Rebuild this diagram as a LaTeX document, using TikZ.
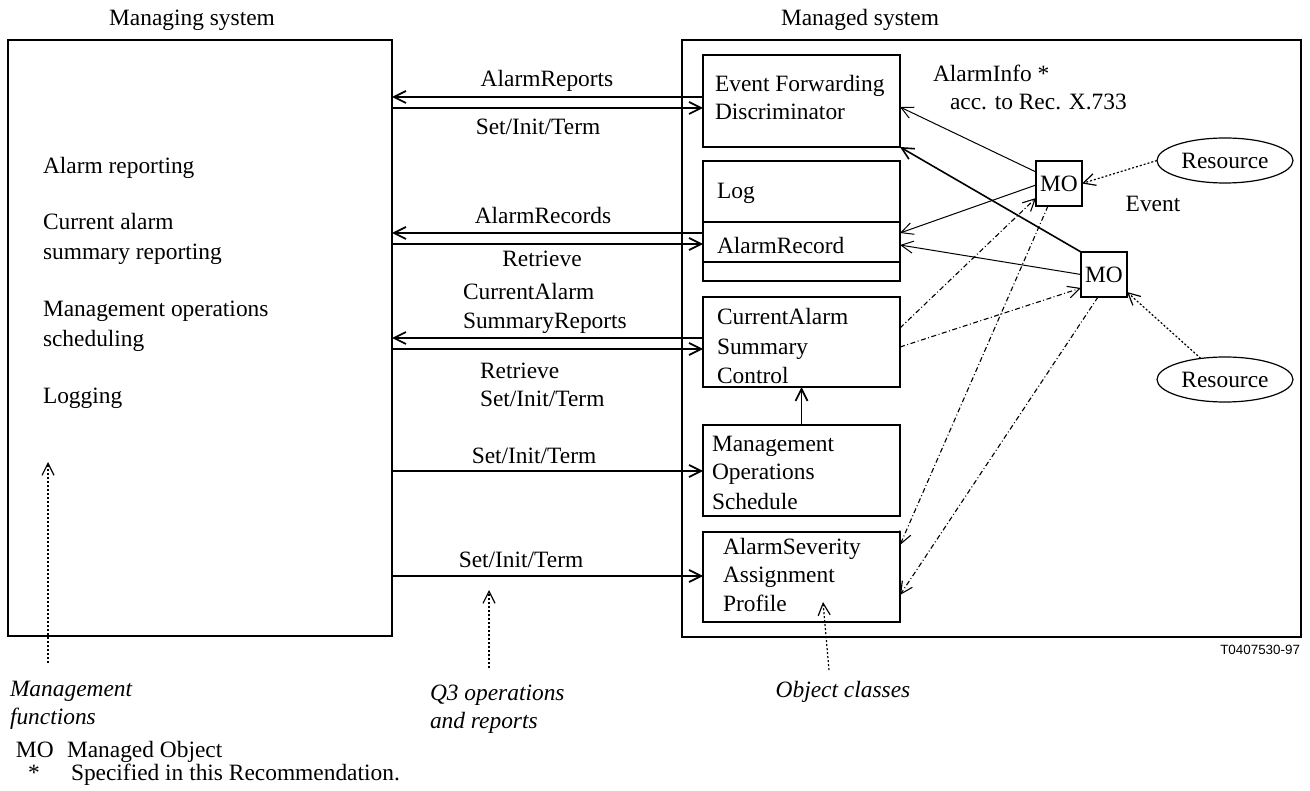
\documentclass[tikz,border=0pt]{standalone}
\usepackage{fontspec}
\setmainfont{Liberation Serif}
\newfontfamily\labelsans{Liberation Sans}
\usetikzlibrary{arrows.meta,shapes.geometric,calc}
\begin{document}
\begin{tikzpicture}[x=1pt,y=-1pt,
  every node/.style={font=\fontsize{23.4}{28}\selectfont, inner sep=0pt, outer sep=0pt},
  box/.style={draw, line width=1.2pt},
  txt/.style={anchor=mid west, yshift=-4pt},
  ctxt/.style={anchor=mid, yshift=-4pt},
  itxt/.style={anchor=mid west, yshift=-4pt, font=\fontsize{23.4}{28}\selectfont\itshape},
  tip/.style={-{Straight Barb[length=12pt,width=12pt]}},
  main/.style={tip, line width=1.7pt},
  thin/.style={tip, line width=1pt},
  dashdot/.style={tip, line width=1.1pt, dash pattern=on 5pt off 2.5pt on 1pt off 2.5pt},
  dotarrow/.style={tip, line width=1.2pt, dash pattern=on 2pt off 2pt}]
\useasboundingbox (0,0) rectangle (1310,791);

% outer boxes
\node[box, minimum width=384pt, minimum height=596pt] (mgr) at (200,338) {};
\node[box, minimum width=619pt, minimum height=597pt] (mgd) at (991.5,338.5) {};
\node[ctxt] (mgrlbl) at (192,19) {Managing system};
\node[ctxt] (mgdlbl) at (860,19) {Managed system};

% managing system texts
\node[txt] (f1) at (43,167) {Alarm reporting};
\node[txt] (f2a) at (43,223) {Current alarm};
\node[txt] (f2b) at (43,253) {summary reporting};
\node[txt] (f3a) at (43,310) {Management operations};
\node[txt] (f3b) at (43,340) {scheduling};
\node[txt] (f4) at (43,397) {Logging};

% object class boxes
\node[box, minimum width=197pt, minimum height=92pt] (efd) at (801.5,101) {};
\node[box, minimum width=197pt, minimum height=120pt] (log) at (801.5,221) {};
\node[box, minimum width=197pt, minimum height=90pt] (casc) at (801.5,342) {};
\node[box, minimum width=197pt, minimum height=91pt] (mos) at (801.5,470.5) {};
\node[box, minimum width=197pt, minimum height=90pt] (asap) at (801.5,577) {};
\draw[line width=1.2pt] (log.west |- 0,222) -- (log.east |- 0,222);
\draw[line width=1.4pt] (log.west |- 0,262) -- (log.east |- 0,262);

\node[txt] (efdt1) at (715,85) {Event Forwarding};
\node[txt] (efdt2) at (715,113) {Discriminator};
\node[txt] (logt1) at (717,192) {Log};
\node[txt] (logt2) at (717,247) {AlarmRecord};
\node[txt] (cascT1) at (717,318) {CurrentAlarm};
\node[txt] (cascT2) at (717,348) {Summary};
\node[txt] (cascT3) at (717,377) {Control};
\node[txt] (mosT1) at (712,445) {Management};
\node[txt] (mosT2) at (712,473) {Operations};
\node[txt] (mosT3) at (712,503) {Schedule};
\node[txt] (asapT1) at (723,548) {AlarmSeverity};
\node[txt] (asapT2) at (723,576) {Assignment};
\node[txt] (asapT3) at (723,605) {Profile};

% MOs and resources
\node[box, minimum width=46pt, minimum height=45pt] (mo1) at (1059,183.5) {MO};
\node[box, minimum width=46pt, minimum height=45pt] (mo2) at (1104,274.5) {MO};
\node[box, ellipse, minimum width=136pt, minimum height=45pt] (res1) at (1225,160.5) {Resource};
\node[box, ellipse, minimum width=136pt, minimum height=45pt] (res2) at (1225,379.5) {Resource};
\node[ctxt] (evt) at (1153,205) {Event};
\node[txt] (ai1) at (933,75) {AlarmInfo *};
\node[txt] (ai2) at (950,103) {acc. to Rec. X.733};

% Q3 arrows
\draw[main] (efd.west |- 0,97) -- (mgr.east |- 0,97);
\draw[main] (mgr.east |- 0,108) -- (efd.west |- 0,108);
\draw[main] (log.west |- 0,233) -- (mgr.east |- 0,233);
\draw[main] (mgr.east |- 0,244) -- (log.west |- 0,244);
\draw[main] (casc.west |- 0,338) -- (mgr.east |- 0,338);
\draw[main] (mgr.east |- 0,349) -- (casc.west |- 0,349);
\draw[main] (mgr.east |- 0,471) -- (mos.west |- 0,471);
\draw[main] (mgr.east |- 0,576) -- (asap.west |- 0,576);

\node[ctxt] (l1) at (547,80) {AlarmReports};
\node[ctxt] (l2) at (538,128) {Set/Init/Term};
\node[ctxt] (l3) at (543,217) {AlarmRecords};
\node[ctxt] (l4) at (542,260) {Retrieve};
\node[txt] (l5) at (463,293) {CurrentAlarm};
\node[txt] (l6) at (463,322) {SummaryReports};
\node[txt] (l7) at (480,372) {Retrieve};
\node[txt] (l8) at (480,400) {Set/Init/Term};
\node[ctxt] (l9) at (534,457) {Set/Init/Term};
\node[ctxt] (l10) at (521,561) {Set/Init/Term};

% internal connections
\draw[main] (mos.north) -- (casc.south);
\draw[thin] ([yshift=11.5pt]mo1.west) -- ([yshift=-6pt]efd.east);
\draw[thin, line width=1.6pt] (mo2.north west) -- (efd.south east);
\draw[thin] ([yshift=-1.5pt]mo1.west) -- ([yshift=-12pt]log.east);
\draw[thin] (mo2.west) -- ([yshift=-24pt]log.east);
\draw[dashdot] ([yshift=14pt]casc.east) -- ([yshift=8pt]mo1.south west);
\draw[dashdot] ([yshift=-5pt]casc.east) -- ([yshift=9pt]mo2.south west);
\draw[dashdot] ([xshift=-11pt]mo1.south) -- ([yshift=32pt]asap.east);
\draw[dashdot] ([xshift=-6pt]mo2.south) -- ([yshift=-18pt]asap.east);
\draw[dotarrow] (res1.west) -- (mo1.east);
\draw[dotarrow] (res2.139) -- ([yshift=5pt]mo2.south east);

% pointer arrows
\coordinate (mfA) at (48,663);
\coordinate (mfB) at (48,462);
\coordinate (q3A) at (489,668);
\coordinate (q3B) at (489,590);
\coordinate (ocA) at (829,670);
\coordinate (ocB) at (823,602);
\draw[dotarrow] (mfA) -- (mfB);
\draw[dotarrow] (q3A) -- (q3B);
\draw[dotarrow] (ocA) -- (ocB);

\node[itxt] (mf1) at (10,690) {Management};
\node[itxt] (mf2) at (10,718) {functions};
\node[itxt] (q31) at (430,694) {Q3 operations};
\node[itxt] (q32) at (430,722) {and reports};
\node[itxt, anchor=mid] (oc) at (843,691) {Object classes};
\node[anchor=mid east, yshift=-2pt, font=\fontsize{13.4}{15}\labelsans] (fig) at (1300,650) {T0407530-97};

\node[txt] (key1a) at (16,751) {MO};
\node[txt] (key1b) at (67,751) {Managed Object};
\node[txt] (key2a) at (28,774) {*};
\node[txt] (key2b) at (71,774) {Specified in this Recommendation.};
\end{tikzpicture}
\end{document}
